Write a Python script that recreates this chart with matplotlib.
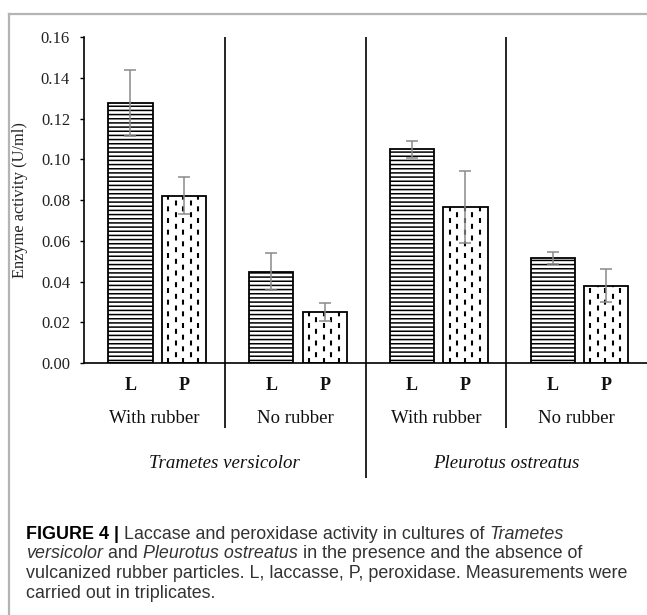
import matplotlib
matplotlib.use("Agg")
import matplotlib.pyplot as plt
from matplotlib.lines import Line2D

# =====================
#   DATA
# =====================
conditions   = ["With rubber", "No rubber", "With rubber", "No rubber"]
species      = ["Trametes versicolor", "Pleurotus ostreatus"]
enzymes      = ["L", "P"]
laccase      = [0.1275, 0.0448, 0.1049, 0.0517]
peroxidase   = [0.0821, 0.0249, 0.0766, 0.0379]
laccase_err  = [0.0163, 0.0090, 0.0043, 0.0029]
peroxid_err  = [0.0090, 0.0045, 0.0178, 0.0080]
y_ticks      = [0.00, 0.02, 0.04, 0.06, 0.08, 0.10, 0.12, 0.14, 0.16]

# =====================
#   STYLE
# =====================
SERIF    = ["Liberation Serif", "DejaVu Serif"]
SANS     = ["Liberation Sans", "DejaVu Sans"]
L_POS    = 0.33     # bar centre inside a group
P_POS    = 0.71
BAR_W    = 0.315
ERR_COL  = "#8a8a8a"
FRAME    = "#b4b4b4"
CAP_COL  = "#333333"

plt.rcParams["hatch.linewidth"] = 1.1
plt.rcParams["lines.scale_dashes"] = False

fig = plt.figure(figsize=(6.47, 6.15), dpi=100)
ax = fig.add_axes([84 / 647, 252 / 615, 563 / 647, 326 / 615])

n = len(conditions)
xs = list(range(n))
xl = [i + L_POS for i in xs]
xp = [i + P_POS for i in xs]

# laccase bars: dense horizontal lines
ax.bar(xl, laccase, width=BAR_W, facecolor="white", edgecolor="black",
       linewidth=1.3, hatch="----", zorder=2)

# peroxidase bars: white with short staggered vertical dashes clipped to the bar
pbars = ax.bar(xp, peroxidase, width=BAR_W, facecolor="white",
               edgecolor="black", linewidth=1.3, zorder=2)
for rect, top in zip(pbars, peroxidase):
    left = rect.get_x()
    for k in range(5):
        cx = left + 0.045 + k * 0.0533
        off = 0 if k % 2 == 0 else 4.2
        lc = ax.vlines(cx, 0, top, colors="black", linewidth=1.5,
                       linestyles=[(off, (3.6, 4.8))], zorder=3)
        lc.set_clip_path(rect)

ax.errorbar(xl, laccase, yerr=laccase_err, fmt="none", ecolor=ERR_COL,
            elinewidth=1.1, capsize=4, capthick=1.1, zorder=4)
ax.errorbar(xp, peroxidase, yerr=peroxid_err, fmt="none", ecolor=ERR_COL,
            elinewidth=1.1, capsize=4, capthick=1.1, zorder=4)

# =====================
#   AXES
# =====================
ax.set_xlim(0, n)
ax.set_ylim(0, 0.16)
ax.spines["top"].set_visible(False)
ax.spines["right"].set_visible(False)
ax.spines["left"].set_linewidth(1.2)
ax.spines["bottom"].set_linewidth(1.2)

ax.set_yticks(y_ticks)
ax.set_yticklabels([f"{v:.2f}" for v in y_ticks], fontfamily=SERIF,
                   fontsize=12, color="#222222")
ax.tick_params(axis="y", direction="out", length=3, width=1, pad=7)

tick_x = [x for pair in zip(xl, xp) for x in pair]
tick_lab = enzymes * n
ax.set_xticks(tick_x)
ax.set_xticklabels(tick_lab, fontfamily=SERIF, fontsize=13,
                   fontweight="bold", color="#111111")
ax.tick_params(axis="x", length=0, pad=10)

ax.set_ylabel("Enzyme activity (U/ml)", fontfamily=SERIF, fontsize=11.8,
              color="#222222")
ax.yaxis.set_label_coords(-(84 - 28) / 563, 0.5)

trans = ax.get_xaxis_transform()
# separators between conditions and species
for i in range(1, n):
    low = -0.353 if i == 2 else -0.199
    ax.vlines(i, low, 1.0, colors="black", linewidth=1.2,
              transform=trans, clip_on=False)

for i, cond in enumerate(conditions):
    ax.text(i + 0.5, -0.169, cond, transform=trans, ha="center",
            va="center", fontfamily=SERIF, fontsize=13.5, color="#111111")
for j, sp in enumerate(species):
    ax.text(2 * j + 1, -0.307, sp, transform=trans, ha="center",
            va="center", fontfamily=SERIF, fontsize=13.6, style="italic",
            color="#111111")

# =====================
#   FRAME + CAPTION
# =====================
fig.add_artist(Line2D([9 / 647, 1.0], [1 - 14 / 615, 1 - 14 / 615],
                      color=FRAME, linewidth=1.6))
fig.add_artist(Line2D([9 / 647, 9 / 647], [0, 1 - 14 / 615],
                      color=FRAME, linewidth=1.6))

caption = [
    [("FIGURE 4 | ", "bold", "normal"),
     ("Laccase and peroxidase activity in cultures of ", "normal", "normal"),
     ("Trametes", "normal", "italic")],
    [("versicolor", "normal", "italic"), (" and ", "normal", "normal"),
     ("Pleurotus ostreatus", "normal", "italic"),
     (" in the presence and the absence of", "normal", "normal")],
    [("vulcanized rubber particles. L, laccasse, P, peroxidase. "
      "Measurements were", "normal", "normal")],
    [("carried out in triplicates.", "normal", "normal")],
]
baselines = [539, 558.5, 578, 597.5]
CAP_SIZE = 12.9

fig.canvas.draw()
renderer = fig.canvas.get_renderer()
for line, yb in zip(caption, baselines):
    x = 26
    for txt, weight, style in line:
        t = fig.text(x / 647, 1 - yb / 615, txt, fontfamily=SANS,
                     fontsize=CAP_SIZE, fontweight=weight, style=style,
                     color="black" if weight == "bold" else CAP_COL,
                     ha="left", va="baseline")
        bb = t.get_window_extent(renderer)
        x += bb.width

fig.savefig("out.png", dpi=100)
